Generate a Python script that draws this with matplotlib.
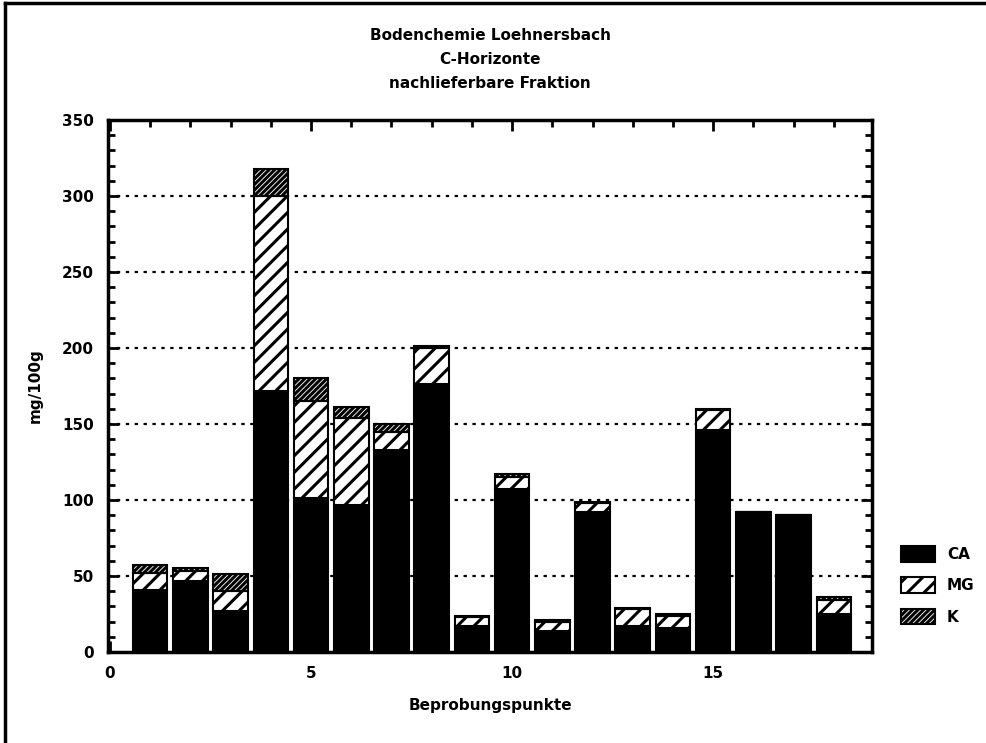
import matplotlib
matplotlib.use("Agg")
import matplotlib.pyplot as plt
from matplotlib.lines import Line2D
from matplotlib.ticker import MultipleLocator

# Beprobungspunkte 1..18, stacked CA / MG / K (mg/100g)
punkte = list(range(1, 19))
ca = [41, 47, 27, 172, 101, 97, 133, 176, 17, 107, 14, 92, 17, 16, 146, 92, 90, 25]
mg = [11, 6, 13, 128, 64, 57, 12, 24, 6, 8, 6, 6, 11, 8, 13, 0, 0, 9]
k = [5, 2, 11, 18, 15, 7, 5, 1, 1, 2, 1, 1, 1, 1, 1, 0, 0, 2]

title_lines = ["Bodenchemie Loehnersbach", "C-Horizonte", "nachlieferbare Fraktion"]

plt.rcParams['font.family'] = ['DejaVu Sans']
plt.rcParams['font.weight'] = 'bold'
plt.rcParams['axes.labelweight'] = 'bold'
plt.rcParams['hatch.linewidth'] = 2.2
plt.rcParams['hatch.color'] = 'black'

fig = plt.figure(figsize=(9.87, 7.43), dpi=100)
ax = fig.add_axes([0.1094, 0.1225, 0.7741, 0.716])

w = 0.86
mg_bottom = ca
k_bottom = [c + m for c, m in zip(ca, mg)]
ax.bar(punkte, ca, width=w, color='black', edgecolor='black', linewidth=1.5, label='CA', zorder=3)
ax.bar(punkte, mg, width=w, bottom=mg_bottom, color='white', edgecolor='black',
       hatch='//', linewidth=1.5, label='MG', zorder=3)
ax.bar(punkte, k, width=w, bottom=k_bottom, color='white', edgecolor='black',
       hatch='//////', linewidth=1.5, label='K', zorder=3)

ax.set_xlim(-0.05, 18.95)
ax.set_ylim(0, 350)
ax.xaxis.set_major_locator(MultipleLocator(5))
ax.xaxis.set_minor_locator(MultipleLocator(1))
ax.yaxis.set_major_locator(MultipleLocator(50))
ax.yaxis.set_minor_locator(MultipleLocator(10))
ax.tick_params(which='both', direction='in', top=True, right=True, width=2)
ax.tick_params(which='major', length=8, labelsize=11, pad=10)
ax.tick_params(which='minor', length=5)
for s in ax.spines.values():
    s.set_linewidth(2.5)

for yv in range(50, 350, 50):
    ax.axhline(yv, color='black', linestyle=(0, (1.5, 2.5)), linewidth=1.6, zorder=1)

ax.set_xlabel("Beprobungspunkte", fontsize=11, labelpad=12)
ax.set_ylabel("mg/100g", fontsize=11, labelpad=14)

fig.text(0.4965, 0.962, "\n".join(title_lines), ha='center', va='top',
         fontsize=11, linespacing=1.75)

leg = ax.legend(loc='lower left', bbox_to_anchor=(1.03, 0.04), frameon=False,
                fontsize=11, handlelength=2.2, handleheight=1.2, labelspacing=1.0,
                borderaxespad=0)

# page border (left and top edges of the scanned sheet)
fig.add_artist(Line2D([0.005, 0.005], [0.0, 0.996], transform=fig.transFigure,
                      color='black', linewidth=2.5))
fig.add_artist(Line2D([0.005, 1.0], [0.996, 0.996], transform=fig.transFigure,
                      color='black', linewidth=2.5))

fig.savefig("out.png", dpi=100)
